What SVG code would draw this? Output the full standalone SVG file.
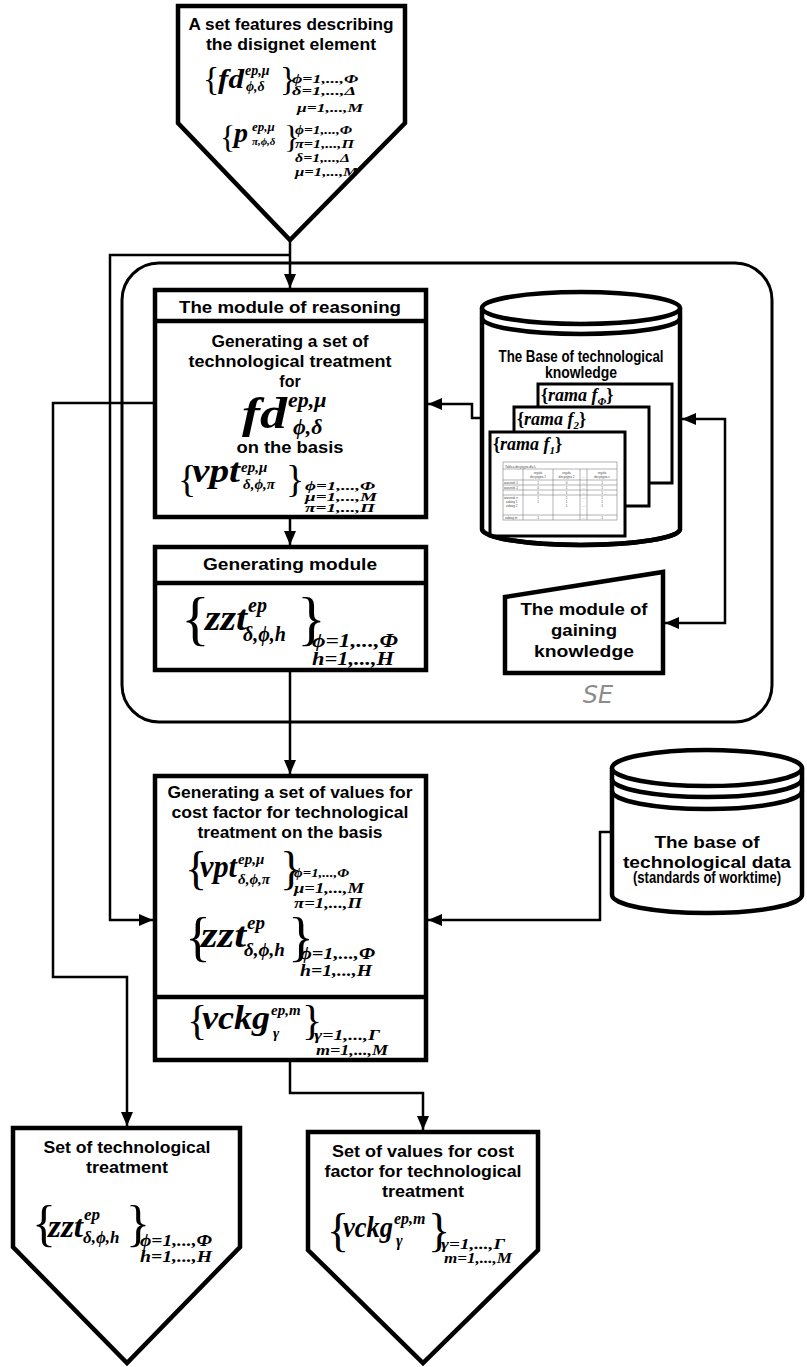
<svg xmlns="http://www.w3.org/2000/svg" width="807" height="1367" viewBox="0 0 807 1367">
<style>
.box{fill:#fff;stroke:#000;stroke-width:4.5;stroke-linejoin:miter}
.sep{stroke:#000;stroke-width:4.5}
.con{fill:none;stroke:#000;stroke-width:2.5}
.frame{fill:#fff;stroke:#000;stroke-width:3}
.t{font-family:"Liberation Sans",Arial,sans-serif;font-weight:bold;text-anchor:middle;fill:#000;font-size:16px}
.m{font-family:"Liberation Serif","Times New Roman",serif;font-weight:bold;font-style:italic;fill:#000}
.br{font-family:"Liberation Serif","Times New Roman",serif;fill:#000}
.tb{font-family:"Liberation Sans",Arial,sans-serif;fill:#444;font-size:3px}
.tl{stroke:#666;stroke-width:0.5;fill:none}
</style>
<defs>
<marker id="ah" markerUnits="userSpaceOnUse" markerWidth="14" markerHeight="12" refX="14" refY="6" orient="auto-start-reverse">
<path d="M0,0 L14,6 L0,12 z" fill="#000"/>
</marker>
</defs>
<rect width="807" height="1367" fill="#fff"/>

<g id="se-container">
<rect x="122" y="263" width="650" height="459" rx="37" ry="37" fill="none" stroke="#000" stroke-width="3"/>
<text x="598" y="703" font-family="DejaVu Sans,sans-serif" font-style="italic" font-size="24" fill="#8c8c8c" text-anchor="middle">SE</text>
</g>

<g id="connectors">
<path class="con" d="M290,240 V288" marker-end="url(#ah)"/>
<path class="con" d="M290,255 H110 V920 H153" marker-end="url(#ah)"/>
<path class="con" d="M155,403 H53 V977 H127 V1126" marker-end="url(#ah)"/>
<path class="con" d="M482,418 H472 V404 H428" marker-end="url(#ah)"/>
<path class="con" d="M682,419 H725 V623 H665" marker-start="url(#ah)" marker-end="url(#ah)"/>
<path class="con" d="M290,517 V545" marker-end="url(#ah)"/>
<path class="con" d="M290,670 V774" marker-end="url(#ah)"/>
<path class="con" d="M612,832 H600 V920 H428" marker-end="url(#ah)"/>
<path class="con" d="M290,1060 V1093 H423 V1130" marker-end="url(#ah)"/>
</g>

<g id="input-features">
<polygon class="box" points="178,6 405,6 405,123 290,240 178,123"/>
<text class="t" x="291" y="30" textLength="205" lengthAdjust="spacingAndGlyphs">A set features describing</text>
<text class="t" x="291" y="50" textLength="170" lengthAdjust="spacingAndGlyphs">the disignet element</text>
<text class="br" x="203" y="90" font-size="34">{</text>
<text class="m" x="218" y="88" font-size="28" textLength="26" lengthAdjust="spacingAndGlyphs">fd</text>
<text class="m" x="245" y="75" font-size="14">ep,μ</text>
<text class="m" x="246" y="91" font-size="14">ϕ,δ</text>
<text class="br" x="280" y="90" font-size="34">}</text>
<text class="m" x="292" y="83" font-size="12" textLength="66" lengthAdjust="spacingAndGlyphs">ϕ=1,...,Φ</text>
<text class="m" x="292" y="95" font-size="12" textLength="64" lengthAdjust="spacingAndGlyphs">δ=1,...,Δ</text>
<text class="m" x="297" y="112" font-size="12" textLength="66" lengthAdjust="spacingAndGlyphs">μ=1,...,M</text>
<text class="br" x="220" y="148" font-size="32">{</text>
<text class="m" x="234" y="142" font-size="28">p</text>
<text class="m" x="252" y="131" font-size="13">ep,μ</text>
<text class="m" x="252" y="145" font-size="11">π,ϕ,δ</text>
<text class="br" x="284" y="148" font-size="32">}</text>
<text class="m" x="295" y="134" font-size="12" textLength="57" lengthAdjust="spacingAndGlyphs">ϕ=1,...,Φ</text>
<text class="m" x="295" y="148" font-size="12" textLength="59" lengthAdjust="spacingAndGlyphs">π=1,...,Π</text>
<text class="m" x="295" y="162" font-size="12" textLength="55" lengthAdjust="spacingAndGlyphs">δ=1,...,Δ</text>
<text class="m" x="295" y="176" font-size="12" textLength="63" lengthAdjust="spacingAndGlyphs">μ=1,...,M</text>
</g>

<g id="module-reasoning">
<rect class="box" x="155" y="290" width="271" height="227"/>
<line class="sep" x1="155" y1="321" x2="426" y2="321"/>
<text class="t" x="290" y="313" font-size="17" textLength="222" lengthAdjust="spacingAndGlyphs">The module of reasoning</text>
<text class="t" x="290" y="347" textLength="157" lengthAdjust="spacingAndGlyphs">Generating a set of</text>
<text class="t" x="290" y="367" textLength="203" lengthAdjust="spacingAndGlyphs">technological treatment</text>
<text class="t" x="290" y="387">for</text>
<text class="m" x="242" y="428" font-size="44" textLength="45" lengthAdjust="spacingAndGlyphs">fd</text>
<text class="m" x="288" y="407" font-size="22">ep,μ</text>
<text class="m" x="293" y="434" font-size="22">ϕ,δ</text>
<text class="t" x="290" y="453" textLength="107" lengthAdjust="spacingAndGlyphs">on the basis</text>
<text class="br" x="178" y="492" font-size="38">{</text>
<text class="m" x="192" y="482" font-size="33" textLength="48" lengthAdjust="spacingAndGlyphs">vpt</text>
<text class="m" x="241" y="472" font-size="15">ep,μ</text>
<text class="m" x="243" y="489" font-size="15">δ,ϕ,π</text>
<text class="br" x="286" y="492" font-size="38">}</text>
<text class="m" x="305" y="490" font-size="12" textLength="70" lengthAdjust="spacingAndGlyphs">ϕ=1,...,Φ</text>
<text class="m" x="305" y="501" font-size="12" textLength="72" lengthAdjust="spacingAndGlyphs">μ=1,...,M</text>
<text class="m" x="305" y="512" font-size="12" textLength="70" lengthAdjust="spacingAndGlyphs">π=1,...,Π</text>
</g>

<g id="generating-module">
<rect class="box" x="155" y="547" width="271" height="123"/>
<line class="sep" x1="155" y1="583" x2="426" y2="583"/>
<text class="t" x="290" y="570" font-size="17" textLength="174" lengthAdjust="spacingAndGlyphs">Generating module</text>
<text class="br" x="181" y="638" font-size="60">{</text>
<text class="m" x="205" y="630" font-size="36" textLength="42" lengthAdjust="spacingAndGlyphs">zzt</text>
<text class="m" x="248" y="612" font-size="20">ep</text>
<text class="m" x="243" y="641" font-size="20">δ,ϕ,h</text>
<text class="br" x="297" y="638" font-size="60">}</text>
<text class="m" x="312" y="647" font-size="18" textLength="86" lengthAdjust="spacingAndGlyphs">ϕ=1,...,Φ</text>
<text class="m" x="312" y="665" font-size="18" textLength="82" lengthAdjust="spacingAndGlyphs">h=1,...,H</text>
</g>

<g id="knowledge-base">
<path class="box" d="M482,308 V529 A99,16 0 0 0 680,529 V308"/>
<ellipse cx="581" cy="308" rx="99" ry="16" fill="#fff" stroke="#000" stroke-width="4.5"/>
<path d="M482,318 A99,16 0 0 0 680,318" fill="none" stroke="#000" stroke-width="4.5"/>
<text class="t" x="581" y="362" font-size="13" textLength="165" lengthAdjust="spacingAndGlyphs">The Base of technological</text>
<text class="t" x="581" y="378" font-size="13" textLength="72" lengthAdjust="spacingAndGlyphs">knowledge</text>
<rect class="frame" x="538" y="384" width="134" height="99"/>
<text class="m" x="541" y="401" font-size="18"><tspan font-style="normal">{</tspan>rama f<tspan font-size="11" dy="4">Φ</tspan><tspan font-style="normal" dy="-4">}</tspan></text>
<rect class="frame" x="514" y="407" width="135" height="99"/>
<text class="m" x="517" y="425" font-size="18"><tspan font-style="normal">{</tspan>rama f<tspan font-size="11" dy="4">2</tspan><tspan font-style="normal" dy="-4">}</tspan></text>
<rect class="frame" x="490" y="432" width="135" height="104"/>
<text class="m" x="493" y="450" font-size="18"><tspan font-style="normal">{</tspan>rama f<tspan font-size="11" dy="4">1</tspan><tspan font-style="normal" dy="-4">}</tspan></text>
<g id="decision-table">
<rect class="tl" x="503" y="462" width="114" height="58"/>
<line class="tl" x1="503" y1="469" x2="617" y2="469"/>
<line class="tl" x1="503" y1="480" x2="617" y2="480"/>
<line class="tl" x1="523" y1="469" x2="523" y2="520"/>
<line class="tl" x1="553" y1="469" x2="553" y2="520"/>
<line class="tl" x1="580" y1="469" x2="580" y2="520"/>
<line class="tl" x1="587" y1="469" x2="587" y2="520"/>
<line class="tl" x1="503" y1="485" x2="617" y2="485"/>
<line class="tl" x1="503" y1="490" x2="617" y2="490"/>
<line class="tl" x1="503" y1="495" x2="617" y2="495"/>
<line class="tl" x1="503" y1="515" x2="617" y2="515"/>
<text class="tb" x="505" y="467.5" font-size="4.5">Tablica decyzyjna dla f₁</text>
<text class="tb" x="538" y="474" text-anchor="middle">reguła</text>
<text class="tb" x="538" y="478" text-anchor="middle">decyzyjna 1</text>
<text class="tb" x="566.5" y="474" text-anchor="middle">reguła</text>
<text class="tb" x="566.5" y="478" text-anchor="middle">decyzyjna 2</text>
<text class="tb" x="583.5" y="478" text-anchor="middle">...</text>
<text class="tb" x="602" y="474" text-anchor="middle">reguła</text>
<text class="tb" x="602" y="478" text-anchor="middle">decyzyjna s</text>
<text class="tb" x="504" y="484">warunek 1</text>
<text class="tb" x="504" y="489">warunek 2</text>
<text class="tb" x="504" y="499">warunek n</text>
<text class="tb" x="506" y="503">zabieg 1</text>
<text class="tb" x="506" y="507">zabieg 2</text>
<text class="tb" x="505" y="519">zabieg m</text>
<text class="tb" x="538" y="484" text-anchor="middle">1</text>
<text class="tb" x="538" y="489" text-anchor="middle">0</text>
<text class="tb" x="538" y="494" text-anchor="middle">0</text>
<text class="tb" x="538" y="499" text-anchor="middle">1</text>
<text class="tb" x="538" y="503" text-anchor="middle">1</text>
<text class="tb" x="538" y="519" text-anchor="middle">1</text>
<text class="tb" x="566.5" y="484" text-anchor="middle">0</text>
<text class="tb" x="566.5" y="489" text-anchor="middle">1</text>
<text class="tb" x="566.5" y="494" text-anchor="middle">1</text>
<text class="tb" x="566.5" y="499" text-anchor="middle">1</text>
<text class="tb" x="566.5" y="503" text-anchor="middle">1</text>
<text class="tb" x="566.5" y="507" text-anchor="middle">1</text>
<text class="tb" x="583.5" y="484" text-anchor="middle">...</text>
<text class="tb" x="583.5" y="489" text-anchor="middle">...</text>
<text class="tb" x="583.5" y="494" text-anchor="middle">...</text>
<text class="tb" x="583.5" y="499" text-anchor="middle">...</text>
<text class="tb" x="583.5" y="507" text-anchor="middle">...</text>
<text class="tb" x="583.5" y="519" text-anchor="middle">...</text>
<text class="tb" x="602" y="484" text-anchor="middle">1</text>
<text class="tb" x="602" y="489" text-anchor="middle">1</text>
<text class="tb" x="602" y="494" text-anchor="middle">1</text>
<text class="tb" x="602" y="499" text-anchor="middle">1</text>
<text class="tb" x="602" y="503" text-anchor="middle">1</text>
<text class="tb" x="602" y="507" text-anchor="middle">1</text>
<text class="tb" x="602" y="519" text-anchor="middle">1</text>
</g>
<path d="M482,529 A99,16 0 0 0 680,529" fill="none" stroke="#000" stroke-width="4.5"/>
</g>

<g id="gaining-knowledge">
<polygon class="box" points="505,597 663,572 663,673 505,673"/>
<text class="t" x="584" y="615" textLength="127" lengthAdjust="spacingAndGlyphs">The module of</text>
<text class="t" x="584" y="636" textLength="66" lengthAdjust="spacingAndGlyphs">gaining</text>
<text class="t" x="584" y="657" textLength="100" lengthAdjust="spacingAndGlyphs">knowledge</text>
</g>

<g id="technological-data">
<path class="box" d="M612,768 V895 A95,18 0 0 0 802,895 V768"/>
<ellipse cx="707" cy="768" rx="95" ry="18" fill="#fff" stroke="#000" stroke-width="4.5"/>
<path d="M612,779 A95,18 0 0 0 802,779" fill="none" stroke="#000" stroke-width="4.5"/>
<path d="M612,791 A95,18 0 0 0 802,791" fill="none" stroke="#000" stroke-width="4.5"/>
<text class="t" x="707" y="848" font-size="18" textLength="105" lengthAdjust="spacingAndGlyphs">The base of</text>
<text class="t" x="707" y="868" font-size="18" textLength="168" lengthAdjust="spacingAndGlyphs">technological data</text>
<text class="t" x="707" y="883" font-size="12" textLength="148" lengthAdjust="spacingAndGlyphs">(standards of worktime)</text>
</g>

<g id="cost-values">
<rect class="box" x="155" y="776" width="271" height="284"/>
<line class="sep" x1="155" y1="997" x2="426" y2="997"/>
<text class="t" x="290" y="798" textLength="245" lengthAdjust="spacingAndGlyphs">Generating a set of values for</text>
<text class="t" x="290" y="818" textLength="237" lengthAdjust="spacingAndGlyphs">cost factor for technological</text>
<text class="t" x="290" y="838" textLength="185" lengthAdjust="spacingAndGlyphs">treatment on the basis</text>
<text class="br" x="185" y="884" font-size="46">{</text>
<text class="m" x="200" y="877" font-size="32" textLength="37" lengthAdjust="spacingAndGlyphs">vpt</text>
<text class="m" x="238" y="864" font-size="15">ep,μ</text>
<text class="m" x="238" y="884" font-size="15">δ,ϕ,π</text>
<text class="br" x="280" y="884" font-size="46">}</text>
<text class="m" x="294" y="877" font-size="12" textLength="55" lengthAdjust="spacingAndGlyphs">ϕ=1,...,Φ</text>
<text class="m" x="294" y="893" font-size="15" textLength="70" lengthAdjust="spacingAndGlyphs">μ=1,...,M</text>
<text class="m" x="294" y="908" font-size="15" textLength="68" lengthAdjust="spacingAndGlyphs">π=1,...,Π</text>
<text class="br" x="185" y="955" font-size="54">{</text>
<text class="m" x="201" y="947" font-size="36" textLength="45" lengthAdjust="spacingAndGlyphs">zzt</text>
<text class="m" x="247" y="929" font-size="19">ep</text>
<text class="m" x="244" y="956" font-size="19">δ,ϕ,h</text>
<text class="br" x="288" y="955" font-size="54">}</text>
<text class="m" x="300" y="959" font-size="17" textLength="75" lengthAdjust="spacingAndGlyphs">ϕ=1,...,Φ</text>
<text class="m" x="300" y="976" font-size="17" textLength="72" lengthAdjust="spacingAndGlyphs">h=1,...,H</text>
<text class="br" x="187" y="1034" font-size="42">{</text>
<text class="m" x="202" y="1029" font-size="34" textLength="68" lengthAdjust="spacingAndGlyphs">vckg</text>
<text class="m" x="271" y="1015" font-size="15">ep,m</text>
<text class="m" x="273" y="1038" font-size="15">γ</text>
<text class="br" x="302" y="1034" font-size="42">}</text>
<text class="m" x="314" y="1040" font-size="15" textLength="66" lengthAdjust="spacingAndGlyphs">γ=1,...,Γ</text>
<text class="m" x="316" y="1055" font-size="15" textLength="72" lengthAdjust="spacingAndGlyphs">m=1,...,M</text>
</g>

<g id="output-treatment">
<polygon class="box" points="13,1128 240,1128 240,1247 127,1363 13,1247"/>
<text class="t" x="127" y="1153" textLength="167" lengthAdjust="spacingAndGlyphs">Set of technological</text>
<text class="t" x="127" y="1173" textLength="82" lengthAdjust="spacingAndGlyphs">treatment</text>
<text class="br" x="32" y="1240" font-size="50">{</text>
<text class="m" x="48" y="1237" font-size="32" textLength="35" lengthAdjust="spacingAndGlyphs">zzt</text>
<text class="m" x="84" y="1220" font-size="17">ep</text>
<text class="m" x="83" y="1243" font-size="17">δ,ϕ,h</text>
<text class="br" x="126" y="1240" font-size="50">}</text>
<text class="m" x="140" y="1246" font-size="16" textLength="72" lengthAdjust="spacingAndGlyphs">ϕ=1,...,Φ</text>
<text class="m" x="140" y="1262" font-size="16" textLength="72" lengthAdjust="spacingAndGlyphs">h=1,...,H</text>
</g>

<g id="output-cost">
<polygon class="box" points="308,1132 538,1132 538,1250 423,1363 308,1250"/>
<text class="t" x="423" y="1157" textLength="182" lengthAdjust="spacingAndGlyphs">Set of values for cost</text>
<text class="t" x="423" y="1177" textLength="197" lengthAdjust="spacingAndGlyphs">factor for technological</text>
<text class="t" x="423" y="1197" textLength="82" lengthAdjust="spacingAndGlyphs">treatment</text>
<text class="br" x="327" y="1246" font-size="46">{</text>
<text class="m" x="343" y="1237" font-size="30" textLength="50" lengthAdjust="spacingAndGlyphs">vckg</text>
<text class="m" x="394" y="1224" font-size="16">ep,m</text>
<text class="m" x="396" y="1246" font-size="16">γ</text>
<text class="br" x="428" y="1246" font-size="46">}</text>
<text class="m" x="441" y="1249" font-size="15" textLength="64" lengthAdjust="spacingAndGlyphs">γ=1,...,Γ</text>
<text class="m" x="444" y="1263" font-size="15" textLength="68" lengthAdjust="spacingAndGlyphs">m=1,...,M</text>
</g>
</svg>
